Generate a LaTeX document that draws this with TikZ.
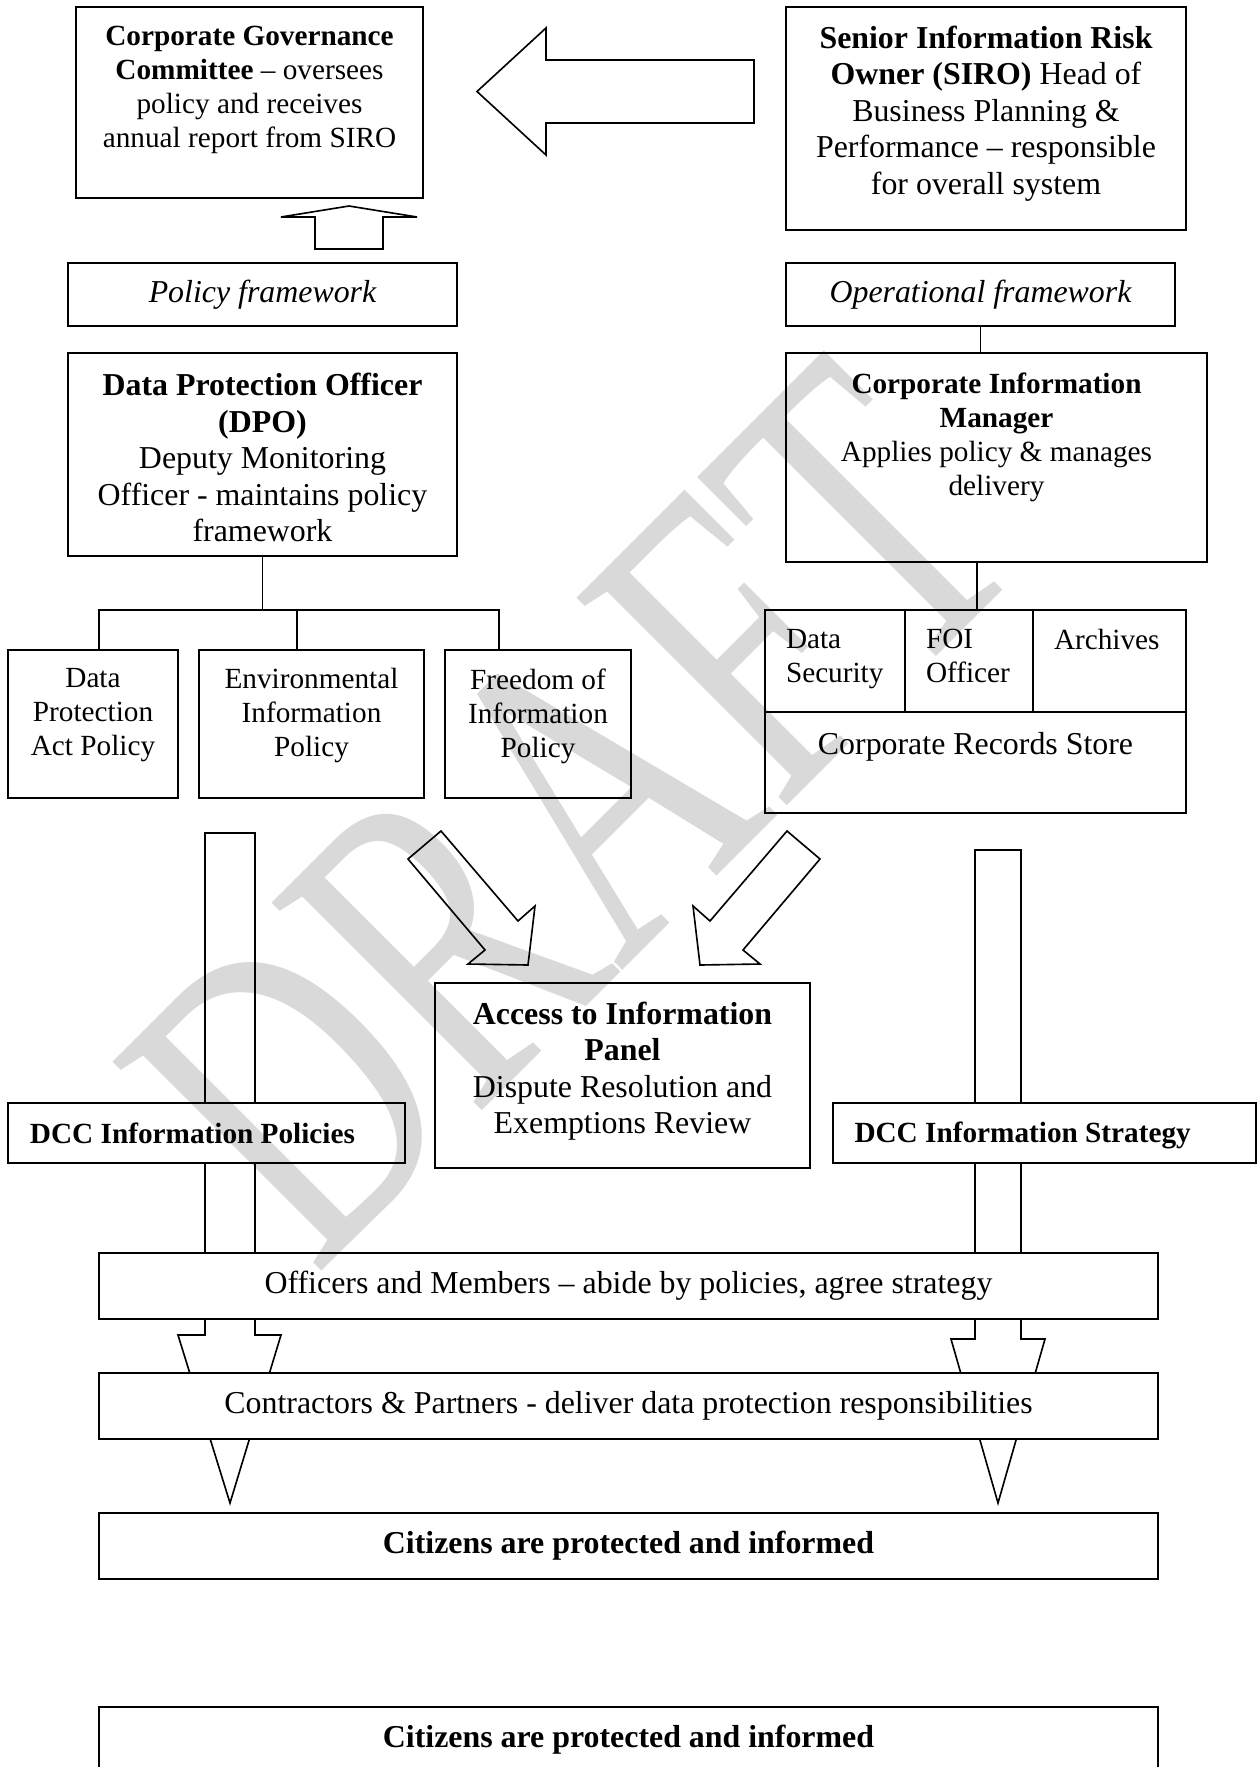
\documentclass[tikz,border=0pt]{standalone}
\usepackage{fontspec}
\setmainfont{Liberation Serif}
\usetikzlibrary{positioning,fit,calc}
\tikzset{
  box/.style={draw=black, fill=white, line width=0.8pt},
  link/.style={draw=black, line width=0.6pt},
  blockarrow/.style={draw=black, fill=white, line join=miter, line width=0.65pt},
  normaltext/.style={font=\fontsize{11.7}{13.6}\selectfont, align=center},
  largetext/.style={font=\fontsize{12.75}{14.6}\selectfont, align=center},
  celltext/.style={font=\fontsize{11.7}{13.6}\selectfont, align=left}
}

\begin{document}
\begin{tikzpicture}[y=0.40pt,x=0.40pt,yscale=-1, inner sep=0pt, outer sep=0pt]
  \useasboundingbox (0,0) rectangle (1258,1767);

  \path[blockarrow] (754,60) -- (546,60) -- (546,28) -- (477,91.5) -- (546,155)
    -- (546,123) -- (754,123) -- cycle;
  \path[blockarrow] (315,249) -- (315,217) -- (281,217) -- (349,206) -- (417,217)
    -- (383,217) -- (383,249) -- cycle;
  \path[blockarrow] (441,831) -- (408,859) -- (485,950) -- (468,964) -- (528,965)
    -- (535,906) -- (518,921) -- cycle;
  \path[blockarrow] (787,831) -- (820,859) -- (743,950) -- (760,964) -- (700,965)
    -- (693,906) -- (710,921) -- cycle;
  \path[blockarrow] (205,833) -- (255,833) -- (255,1335) -- (281,1335) -- (230,1503)
    -- (178,1335) -- (205,1335) -- cycle;
  \path[blockarrow] (975,850) -- (1021,850) -- (1021,1339) -- (1045,1339) -- (998,1503)
    -- (951,1339) -- (975,1339) -- cycle;

  \node[box, fit={(76,7) (423,198)}] (rectGovernance) {};
  \node[normaltext, below=7.6pt of rectGovernance.north] (textGovernance)
    {\textbf{Corporate Governance}\\ \textbf{Committee} – oversees\\ policy and receives\\ annual report from SIRO};
  \node[box, fit={(786,7) (1186,230)}] (rectSiro) {};
  \node[largetext, below=7.6pt of rectSiro.north] (textSiro)
    {\textbf{Senior Information Risk}\\ \textbf{Owner (SIRO)} Head of\\ Business Planning \&\\ Performance – responsible\\ for overall system};

  \node[box, fit={(68,263) (457,326)}] (rectPolicy) {};
  \node[largetext] (textPolicy) at (rectPolicy.center) {\itshape Policy framework};
  \node[box, fit={(786,263) (1175,326)}] (rectOperational) {};
  \node[largetext] (textOperational) at (rectOperational.center) {\itshape Operational framework};

  \node[box, fit={(68,353) (457,556)}] (rectDpo) {};
  \node[largetext] (textDpo) at ($(rectDpo.center)+(0,3)$)
    {\textbf{Data Protection Officer}\\ \textbf{(DPO)}\\ Deputy Monitoring\\ Officer - maintains policy\\ framework};
  \node[box, fit={(786,353) (1207,562)}] (rectManager) {};
  \node[normaltext, below=8pt of rectManager.north] (textManager)
    {\textbf{Corporate Information}\\ \textbf{Manager}\\ Applies policy \& manages\\ delivery};

  \node[box, fit={(8,650) (178,798)}] (rectDpa) {};
  \node[normaltext, below=7.4pt of rectDpa.north] (textDpa) {Data\\ Protection\\ Act Policy};
  \node[box, fit={(199,650) (424,798)}] (rectEnv) {};
  \node[normaltext, below=7.4pt of rectEnv.north] (textEnv) {Environmental\\ Information\\ Policy};
  \node[box, fit={(445,650) (631,798)}] (rectFoi) {};
  \node[normaltext, below=7.4pt of rectFoi.north] (textFoi) {Freedom of\\ Information\\ Policy};

  \node[box, fit={(765,610) (905,712)}] (rectSecurity) {};
  \node[celltext, below right=7.6pt and 8.4pt of rectSecurity.north west] (textSecurity) {Data\\ Security};
  \node[box, fit={(905,610) (1033,712)}] (rectFoiOfficer) {};
  \node[celltext, below right=7.6pt and 8.4pt of rectFoiOfficer.north west] (textFoiOfficer) {FOI\\ Officer};
  \node[box, fit={(1033,610) (1186,712)}] (rectArchives) {};
  \node[celltext, below right=7.6pt and 8.4pt of rectArchives.north west] (textArchives) {Archives};
  \node[box, fit={(765,712) (1186,813)}] (rectStore) {};
  \node[largetext, below=8pt of rectStore.north] (textStore) {Corporate Records Store};

  \node[box, fit={(435,983) (810,1168)}] (rectPanel) {};
  \node[largetext, below=7.6pt of rectPanel.north] (textPanel)
    {\textbf{Access to Information}\\ \textbf{Panel}\\ Dispute Resolution and\\ Exemptions Review};

  \node[box, fit={(8,1103) (405,1163)}] (rectDccPolicies) {};
  \node[normaltext, right=8.8pt of rectDccPolicies.west] (textDccPolicies) {\textbf{DCC Information Policies}};
  \node[box, fit={(833,1103) (1256,1163)}] (rectDccStrategy) {};
  \node[normaltext, right=8.6pt of rectDccStrategy.west, yshift=-1pt] (textDccStrategy) {\textbf{DCC Information Strategy}};

  \node[box, fit={(99,1253) (1158,1319)}] (rectOfficers) {};
  \node[largetext] (textOfficers) at (rectOfficers.center)
    {Officers and Members – abide by policies, agree strategy};
  \node[box, fit={(99,1373) (1158,1439)}] (rectPartners) {};
  \node[largetext] (textPartners) at (rectPartners.center)
    {Contractors \& Partners - deliver data protection responsibilities};
  \node[box, fit={(99,1513) (1158,1579)}] (rectCitizens) {};
  \node[largetext] (textCitizens) at (rectCitizens.center)
    {\textbf{Citizens are protected and informed}};
  \node[box, fit={(99,1707) (1158,1773)}] (rectCitizensRepeat) {};
  \node[largetext] (textCitizensRepeat) at (rectCitizensRepeat.center)
    {\textbf{Citizens are protected and informed}};

  \draw[link] (rectOperational.south) -- (rectOperational.south |- rectManager.north);
  \draw[link] ($(rectSecurity.north east)+(72,0)$) coordinate (topGroup)
    -- (topGroup |- rectManager.south);
  \draw[link] (rectDpo.south) -- ++(0,54) coordinate (busDpo);
  \draw[link] ($(rectDpa.north west)+(91,0)$) -- ++(0,-40) -| ($(rectFoi.north west)+(54,0)$);
  \draw[link] ($(rectEnv.north west)+(98,0)$) -- ++(0,-40);

  \node[rotate=45, text=black, text opacity=0.15, font=\fontsize{124.5}{124.5}\selectfont]
    (textDraft) at (571,812) {\scalebox{1}[1.45]{DRAFT}};
\end{tikzpicture}
\end{document}
